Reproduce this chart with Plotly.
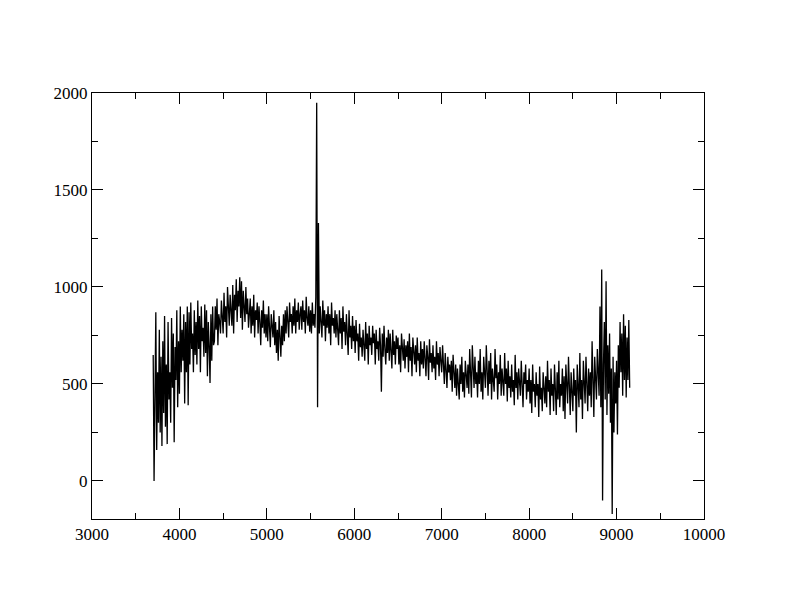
import plotly.graph_objects as go

# wavelength grid (Angstrom): 10 A steps starting at 3700
start_wave = 3700
step_wave = 10

# flux values, one row per 100 A
flux_rows = [
    [650, 0, 420, 870, 160, 560, 300, 780, 250, 640],       # 3700
    [180, 720, 350, 850, 280, 600, 190, 820, 420, 560],     # 3800
    [300, 840, 480, 760, 200, 690, 520, 880, 380, 720],     # 3900
    [450, 900, 560, 780, 620, 860, 400, 820, 560, 900],     # 4000
    [390, 870, 600, 920, 680, 760, 560, 880, 650, 820],     # 4100
    [600, 930, 680, 850, 560, 900, 720, 790, 640, 910],     # 4200
    [660, 880, 540, 820, 700, 505, 860, 620, 900, 700],     # 4300
    [720, 900, 780, 940, 700, 860, 820, 760, 930, 800],     # 4400
    [760, 970, 820, 900, 740, 1000, 860, 800, 960, 840],    # 4500
    [800, 1010, 760, 960, 880, 1040, 820, 980, 900, 1050],  # 4600
    [840, 1030, 780, 980, 900, 820, 1000, 860, 940, 790],   # 4700
    [860, 940, 760, 900, 800, 960, 740, 880, 830, 920],     # 4800
    [760, 900, 820, 700, 880, 790, 930, 760, 860, 740],     # 4900
    [860, 720, 900, 780, 690, 860, 800, 740, 880, 700],     # 5000
    [820, 660, 780, 620, 850, 700, 640, 800, 700, 860],     # 5100
    [720, 880, 760, 900, 800, 740, 920, 820, 860, 760],     # 5200
    [900, 800, 940, 760, 880, 820, 920, 780, 860, 900],     # 5300
    [780, 930, 820, 880, 760, 950, 840, 800, 900, 770],     # 5400
    [880, 760, 920, 800, 860, 790, 950, 1950, 380, 1330],   # 5500
    [760, 900, 820, 740, 930, 800, 880, 720, 860, 790],     # 5600
    [900, 760, 860, 700, 920, 800, 840, 760, 880, 740],     # 5700
    [860, 780, 700, 880, 760, 840, 680, 900, 770, 820],     # 5800
    [700, 860, 760, 650, 880, 740, 800, 680, 850, 720],     # 5900
    [800, 660, 830, 720, 760, 620, 810, 690, 740, 640],     # 6000
    [780, 700, 620, 820, 680, 760, 600, 800, 700, 740],     # 6100
    [650, 800, 710, 760, 600, 780, 680, 720, 620, 790],     # 6200
    [700, 460, 760, 640, 800, 680, 600, 740, 660, 780],     # 6300
    [620, 760, 690, 580, 780, 650, 720, 600, 750, 680],     # 6400
    [740, 600, 700, 560, 760, 660, 620, 730, 580, 700],     # 6500
    [640, 720, 560, 760, 620, 690, 540, 740, 660, 600],     # 6600
    [700, 560, 740, 620, 660, 540, 720, 600, 680, 580],     # 6700
    [720, 600, 540, 700, 640, 520, 730, 610, 660, 560],     # 6800
    [700, 580, 640, 520, 720, 600, 660, 540, 690, 620],     # 6900
    [560, 700, 620, 500, 660, 580, 480, 640, 560, 600],     # 7000
    [520, 620, 460, 650, 540, 480, 600, 440, 580, 500],     # 7100
    [420, 600, 500, 640, 460, 560, 430, 620, 520, 480],     # 7200
    [600, 450, 680, 520, 430, 700, 540, 480, 640, 500],     # 7300
    [560, 430, 620, 500, 680, 460, 560, 420, 640, 520],     # 7400
    [480, 700, 540, 440, 620, 500, 660, 420, 580, 520],     # 7500
    [460, 680, 530, 600, 420, 560, 500, 650, 440, 580],     # 7600
    [520, 440, 660, 500, 580, 410, 620, 480, 540, 430],     # 7700
    [600, 460, 520, 390, 650, 480, 560, 420, 580, 500],     # 7800
    [440, 620, 480, 380, 560, 500, 600, 420, 520, 460],     # 7900
    [580, 400, 520, 350, 600, 460, 500, 380, 560, 440],     # 8000
    [500, 330, 590, 420, 480, 360, 560, 450, 400, 540],     # 8100
    [380, 620, 460, 520, 340, 580, 440, 500, 360, 600],     # 8200
    [460, 340, 560, 420, 620, 380, 500, 440, 580, 360],     # 8300
    [540, 320, 600, 440, 400, 640, 460, 340, 560, 420],     # 8400
    [360, 580, 440, 520, 250, 600, 480, 380, 660, 420],     # 8500
    [520, 320, 620, 460, 400, 640, 500, 360, 580, 440],     # 8600
    [560, 380, 720, 460, 330, 640, 500, 420, 680, 540],     # 8700
    [440, 900, 380, 1090, -100, 600, 820, 420, 1030, 340],  # 8800
    [700, 450, 760, 300, 580, -170, 640, 250, 560, 400],    # 8900
    [620, 240, 700, 480, 820, 560, 760, 440, 860, 520],     # 9000
    [800, 430, 740, 520, 830, 480],                         # 9100
]

flux = [v for row in flux_rows for v in row]
wave = [start_wave + step_wave * i for i in range(len(flux))]

x_ticks = [3000, 4000, 5000, 6000, 7000, 8000, 9000, 10000]
y_ticks = [0, 500, 1000, 1500, 2000]

fig = go.Figure()
fig.add_trace(go.Scatter(x=wave, y=flux, mode="lines",
                         line=dict(color="black", width=1.3),
                         showlegend=False, hoverinfo="skip"))

font = dict(family="Liberation Serif, Times New Roman, serif", size=17, color="black")

axis_common = dict(
    ticks="inside", ticklen=11, tickwidth=1, tickcolor="black",
    showline=True, linecolor="black", linewidth=1, mirror="allticks",
    showgrid=False, zeroline=False, tickfont=font,
)

fig.update_layout(
    width=784, height=604,
    margin=dict(l=84, r=88, t=85, b=93),
    paper_bgcolor="white", plot_bgcolor="white",
    font=font,
    xaxis=dict(range=[3000, 10000], tickvals=x_ticks,
               ticktext=[str(v) for v in x_ticks],
               minor=dict(dtick=500, ticks="inside", ticklen=6, tickwidth=1,
                          tickcolor="black", showgrid=False),
               **axis_common),
    yaxis=dict(range=[-196, 2000], tickvals=y_ticks,
               ticktext=[str(v) for v in y_ticks],
               minor=dict(dtick=250, ticks="inside", ticklen=6, tickwidth=1,
                          tickcolor="black", showgrid=False),
               **axis_common),
)

fig.write_html("out.html")
